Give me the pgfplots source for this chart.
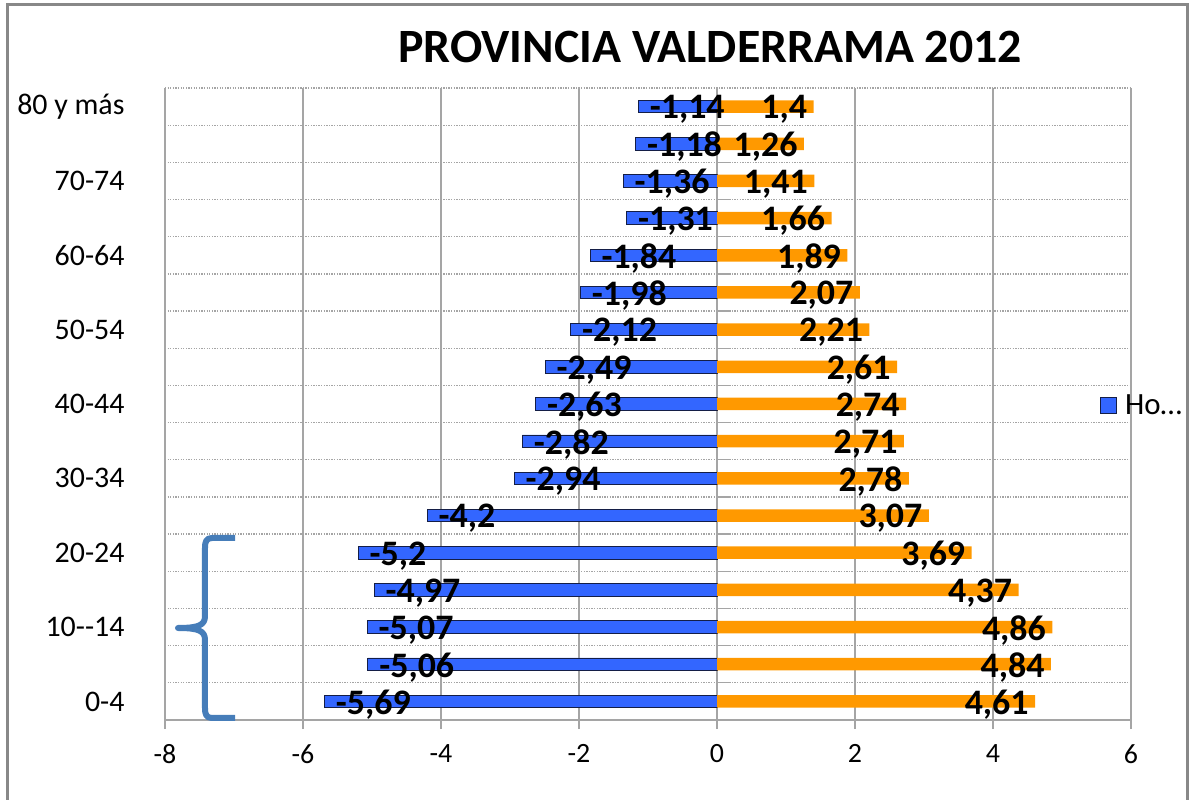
\documentclass[border=0pt]{standalone}
\usepackage{pgfplots}
\pgfplotsset{compat=1.18}
\usepackage{pgfplotstable}
\usepackage{fontspec}
\setmainfont{Carlito}
\definecolor{hblue}{RGB}{51,102,255}
\definecolor{hedge}{RGB}{20,30,70}
\definecolor{morange}{RGB}{255,153,0}
\definecolor{gridgray}{RGB}{165,165,165}
\definecolor{framegray}{RGB}{136,136,136}
\definecolor{bracecol}{RGB}{70,125,185}

\pgfplotstableread{
y h m
0 -5.69 4.61
1 -5.06 4.84
2 -5.07 4.86
3 -4.97 4.37
4 -5.2 3.69
5 -4.2 3.07
6 -2.94 2.78
7 -2.82 2.71
8 -2.63 2.74
9 -2.49 2.61
10 -2.12 2.21
11 -1.98 2.07
12 -1.84 1.89
13 -1.31 1.66
14 -1.36 1.41
15 -1.18 1.26
16 -1.14 1.4
}\datatable

\begin{document}
\begin{tikzpicture}
\begin{scope}[x=1bp,y=-1bp,shift={(-165bp,720bp)}]
\useasboundingbox (0,0) rectangle (1191,782);
\end{scope}
\begin{axis}[
  at={(0,0)}, anchor=south west,
  scale only axis, width=966bp, height=632bp,
  xmin=-8, xmax=6, ymin=-0.5, ymax=16.5,
  enlargelimits=false,
  xtick={-8,-6,...,6},
  ytick={0,2,...,16},
  yticklabels={0-4,10-{}-14,20-24,30-34,40-44,50-54,60-64,70-74,80 y más},
  extra y ticks={0.5,1.5,...,16.5},
  extra y tick labels={},
  extra y tick style={grid=major, major grid style={gridgray, line width=1.3bp, dash pattern=on 1.3bp off 1.3bp}, major tick length=0pt},
  xmajorgrids,
  major grid style={gridgray, line width=1.3bp},
  axis line style={draw=none},
  tick align=outside,
  xtick pos=left,
  ytick style={draw=none},
  xtick style={gridgray, line width=1.3bp},
  major tick length=9bp,
  xticklabel style={font=\fontsize{28}{32}\selectfont, text=black, yshift=-12bp},
  yticklabel style={font=\fontsize{30}{36}\selectfont, xshift=-28bp, text=black},
  /pgf/number format/assume math mode=true,
  xbar, bar width=12.5bp,
  legend style={at={(0.968,0.498)}, anchor=west, draw=none, fill=none, inner sep=0pt, font=\fontsize{31}{36}\selectfont,
    /tikz/every odd column/.append style={column sep=6bp}},
]
\addplot[xbar, bar shift=0pt, fill=hblue, draw=hedge, line width=0.8bp,
  legend image code/.code={\draw[fill=hblue,draw=hedge,line width=0.8bp] (0bp,-8bp) rectangle (16bp,8bp);}]
  table[x=h,y=y]{\datatable};
\addlegendentry{Ho\ldots}
\addplot[xbar, bar shift=0pt, fill=morange, draw=none, forget plot]
  table[x=m,y=y]{\datatable};
\addplot[xbar, bar shift=0pt, draw=none, fill=none, forget plot, point meta=x,
  nodes near coords={\pgfmathprintnumber[use comma]{\pgfplotspointmeta}},
  every node near coord/.append style={anchor=west, font=\fontsize{36}{40}\selectfont\bfseries, xshift=8bp, yshift=-3bp, text=black}]
  table[x=h,y=y]{\datatable};
\addplot[xbar, bar shift=0pt, draw=none, fill=none, forget plot, point meta=x,
  nodes near coords={\pgfmathprintnumber[use comma]{\pgfplotspointmeta}},
  every node near coord/.append style={anchor=east, font=\fontsize{36}{40}\selectfont\bfseries, xshift=-3bp, yshift=-3bp, text=black}]
  table[x=m,y=y]{\datatable};
\draw[gridgray, line width=1.5bp] (axis cs:-8,-0.5) -- (axis cs:6,-0.5);
\pgfplotsinvokeforeach{0,...,15}{\draw[gridgray, line width=1.3bp] (axis cs:0,#1.5) -- (axis cs:0.17,#1.5);}
\end{axis}
\begin{scope}[x=1bp,y=-1bp,shift={(-165bp,720bp)}]
\draw[framegray, line width=3bp] (8,800) -- (8,5) -- (1187,5) -- (1187,800);
\node[font=\fontsize{48}{56}\selectfont\bfseries] at (710,47) {PROVINCIA VALDERRAMA 2012};
\draw[bracecol, line width=6bp, line join=round]
  (235,538) -- (212,538) .. controls (206,538) and (205,542) .. (205,548)
  -- (205,616) .. controls (205,625) and (199,628) .. (178,628)
  .. controls (199,628) and (205,631) .. (205,640)
  -- (205,708) .. controls (205,714) and (206,718) .. (212,718) -- (235,718);
\end{scope}
\end{tikzpicture}
\end{document}
